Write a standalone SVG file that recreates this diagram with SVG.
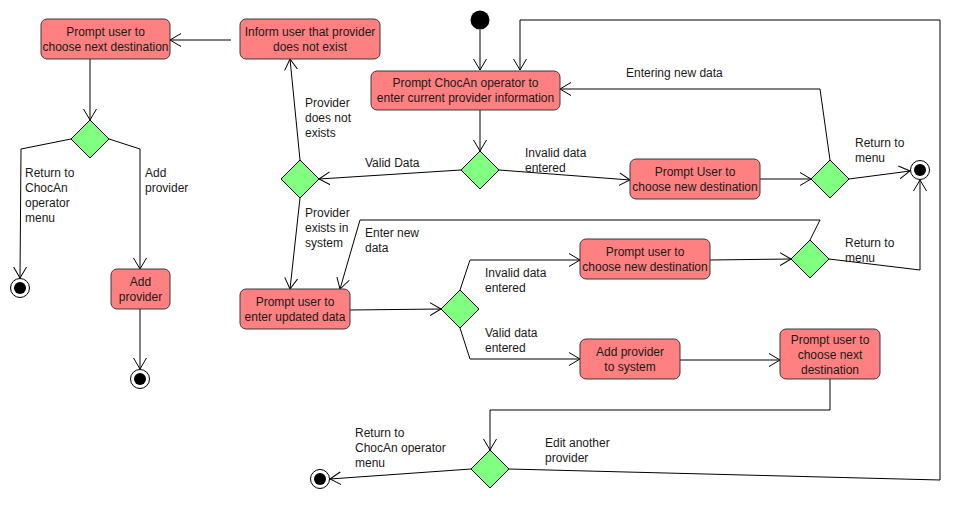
<svg xmlns="http://www.w3.org/2000/svg" width="970" height="510" viewBox="0 0 970 510">
<style>
.box{fill:#ff8080;stroke:#36393d;stroke-width:1}
.dia{fill:#80ff80;stroke:#000;stroke-width:1}
.start{fill:#000}
.fo{fill:#fff;stroke:#000;stroke-width:1}
.fi{fill:#000}
.c{fill:none;stroke:#000;stroke-width:1;marker-end:url(#arr)}
text{font-family:"Liberation Sans",Arial,sans-serif;font-size:12px;fill:#1a1a1a}
.m{text-anchor:middle}
</style>
<defs>
<marker id="arr" markerUnits="userSpaceOnUse" markerWidth="14" markerHeight="16" refX="11" refY="7" orient="auto">
<path d="M0,0.5 L11,7 L0,13.5" fill="none" stroke="#000" stroke-width="1"/>
</marker>
</defs>
<rect width="970" height="510" fill="#fff"/>
<g id="connectors">
<path class="c" d="M480,30 L480,70"/>
<path class="c" d="M480,110 L480,151"/>
<path class="c" d="M461,170 L319,179"/>
<path class="c" d="M499,170 L630,180"/>
<path class="c" d="M760,179 L811,179"/>
<path class="c" d="M830,160 L820,89 L560,89"/>
<path class="c" d="M849,179 L910,171"/>
<path class="c" d="M300,160 L290,59"/>
<path class="c" d="M231,40 L170,40"/>
<path class="c" d="M90,59 L90,120"/>
<path class="c" d="M71,139 L21,149 L20,278"/>
<path class="c" d="M109,139 L140,149 L140,269"/>
<path class="c" d="M140,309 L140,369"/>
<path class="c" d="M300,198 L290,289"/>
<path class="c" d="M350,310 L441,309"/>
<path class="c" d="M460,290 L470,260 L580,260"/>
<path class="c" d="M460,328 L470,359 L580,359"/>
<path class="c" d="M710,260 L791,259"/>
<path class="c" d="M810,240 L820,220 L360,220 L340,289"/>
<path class="c" d="M829,259 L920,270 L920,180"/>
<path class="c" d="M680,360 L780,360"/>
<path class="c" d="M830,379 L830,410 L490,410 L490,450"/>
<path class="c" d="M471,469 L330,479"/>
<path class="c" d="M509,469 L940,480 L940,20 L520,20 L520,70"/>
<text x="365" y="167">Valid Data</text>
<text x="525" y="157">Invalid data</text>
<text x="525" y="172">entered</text>
<text x="626" y="77">Entering new data</text>
<text x="855" y="147">Return to</text>
<text x="855" y="162">menu</text>
<text x="305" y="107">Provider</text>
<text x="305" y="122">does not</text>
<text x="305" y="137">exists</text>
<text x="305" y="217">Provider</text>
<text x="305" y="232">exists in</text>
<text x="305" y="247">system</text>
<text x="25" y="177">Return to</text>
<text x="25" y="192">ChocAn</text>
<text x="25" y="207">operator</text>
<text x="25" y="222">menu</text>
<text x="145" y="177">Add</text>
<text x="145" y="192">provider</text>
<text x="365" y="237">Enter new</text>
<text x="365" y="252">data</text>
<text x="485" y="277">Invalid data</text>
<text x="485" y="292">entered</text>
<text x="485" y="337">Valid data</text>
<text x="485" y="352">entered</text>
<text x="845" y="247">Return to</text>
<text x="845" y="262">menu</text>
<text x="355" y="437">Return to</text>
<text x="355" y="452">ChocAn operator</text>
<text x="355" y="467">menu</text>
<text x="545" y="447">Edit another</text>
<text x="545" y="462">provider</text>
</g>
<g id="start"><circle class="start" cx="480" cy="20" r="9.5"/></g>
<g id="n_choc"><rect class="box" x="371" y="71" width="189" height="39" rx="6"/><text class="m" x="465.5" y="87">Prompt ChocAn operator to</text><text class="m" x="465.5" y="101.5">enter current provider information</text></g>
<g id="d_main"><path class="dia" d="M480,151 L499,170 L480,189 L461,170 Z"/></g>
<g id="n_newdest1"><rect class="box" x="630" y="159" width="130" height="40" rx="6"/><text class="m" x="695" y="176">Prompt User to</text><text class="m" x="695" y="190.5">choose new destination</text></g>
<g id="d_ret1"><path class="dia" d="M830,160 L849,179 L830,198 L811,179 Z"/></g>
<g id="f_top"><circle class="fo" cx="920" cy="170" r="9.5"/><circle class="fi" cx="920" cy="170" r="6"/></g>
<g id="d_valid"><path class="dia" d="M300,160 L319,179 L300,198 L281,179 Z"/></g>
<g id="n_inform"><rect class="box" x="240" y="19" width="140" height="40" rx="6"/><text class="m" x="310" y="36">Inform user that provider</text><text class="m" x="310" y="50.5">does not exist</text></g>
<g id="n_nextdest1"><rect class="box" x="41" y="19" width="129" height="40" rx="6"/><text class="m" x="105.5" y="36">Prompt user to</text><text class="m" x="105.5" y="50.5">choose next destination</text></g>
<g id="d_left"><path class="dia" d="M90,120 L109,139 L90,158 L71,139 Z"/></g>
<g id="f_left1"><circle class="fo" cx="20" cy="288" r="9.5"/><circle class="fi" cx="20" cy="288" r="6"/></g>
<g id="n_add"><rect class="box" x="111" y="269" width="59" height="40" rx="6"/><text class="m" x="140.5" y="286">Add</text><text class="m" x="140.5" y="300.5">provider</text></g>
<g id="f_left2"><circle class="fo" cx="140" cy="379" r="9.5"/><circle class="fi" cx="140" cy="379" r="6"/></g>
<g id="n_update"><rect class="box" x="240" y="289" width="110" height="40" rx="6"/><text class="m" x="295" y="306">Prompt user to</text><text class="m" x="295" y="320.5">enter updated data</text></g>
<g id="d_update"><path class="dia" d="M460,290 L479,309 L460,328 L441,309 Z"/></g>
<g id="n_newdest2"><rect class="box" x="580" y="239" width="130" height="40" rx="6"/><text class="m" x="645" y="256">Prompt user to</text><text class="m" x="645" y="270.5">choose new destination</text></g>
<g id="d_ret2"><path class="dia" d="M810,240 L829,259 L810,278 L791,259 Z"/></g>
<g id="n_addsys"><rect class="box" x="580" y="339" width="100" height="40" rx="6"/><text class="m" x="630" y="356">Add provider</text><text class="m" x="630" y="370.5">to system</text></g>
<g id="n_nextdest2"><rect class="box" x="780" y="329" width="100" height="50" rx="6"/><text class="m" x="830" y="344">Prompt user to</text><text class="m" x="830" y="359">choose next</text><text class="m" x="830" y="374">destination</text></g>
<g id="d_bottom"><path class="dia" d="M490,450 L509,469 L490,488 L471,469 Z"/></g>
<g id="f_bottom"><circle class="fo" cx="320" cy="479" r="9.5"/><circle class="fi" cx="320" cy="479" r="6"/></g>
</svg>
